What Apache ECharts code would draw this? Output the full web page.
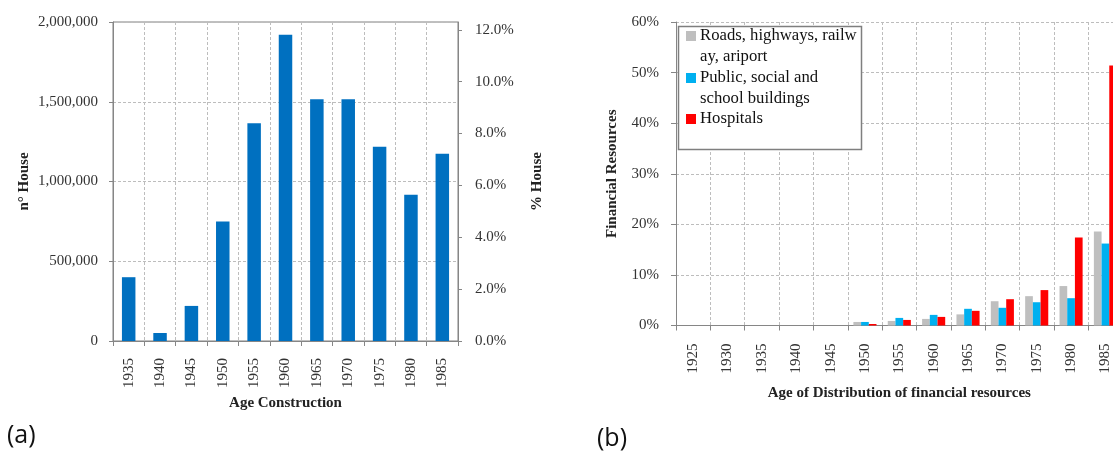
<!DOCTYPE html>
<html>
<head>
<meta charset="utf-8">
<script src="https://cdn.jsdelivr.net/npm/echarts@6/dist/echarts.min.js"></script>
<style>
html,body{margin:0;padding:0;background:#fff;overflow:hidden;width:1113px;height:453px;}
#chart{width:1130px;height:453px;}
</style>
</head>
<body>
<div id="chart"></div>
<script>
// ---- Chart (a) data ----
const yearsA = ['1935','1940','1945','1950','1955','1960','1965','1970','1975','1980','1985'];
const housesA = [400000, 50000, 220000, 750000, 1365000, 1920000, 1515000, 1515000, 1218000, 917000, 1174000];

// ---- Chart (b) data (% of financial resources) ----
const yearsB = ['1925','1930','1935','1940','1945','1950','1955','1960','1965','1970','1975','1980','1985'];
const roadsB = [0, 0, 0, 0, 0, 0.7, 0.9, 1.3, 2.2, 4.8, 5.8, 7.8, 18.6];
const publicB = [0, 0, 0, 0, 0, 0.7, 1.5, 2.1, 3.3, 3.5, 4.6, 5.4, 16.2];
const hospitalsB = [0, 0, 0, 0, 0, 0.3, 1.1, 1.7, 2.9, 5.2, 7.0, 17.4, 51.4];
const seriesNamesB = ['Roads, highways, railw\nay, ariport', 'Public, social and\nschool buildings', 'Hospitals'];
const colorsB = ['#BFBFBF', '#00B0F0', '#FF0000'];

const FONT = '"Liberation Serif", "DejaVu Serif", serif';
const axisGray = '#868686';
const gridLine = {show: true, lineStyle: {color: '#BDBDBD', type: [3, 2], width: 1}};
const labelStyle = {fontFamily: FONT, fontSize: 15, color: '#333'};
const nameStyle = {fontFamily: FONT, fontSize: 15, fontWeight: 'bold', color: '#222'};

const chart = echarts.init(document.getElementById('chart'), null, {renderer: 'canvas'});

const legendGraphics = [
  {type: 'rect', shape: {x: 678.5, y: 26.5, width: 183, height: 123}, style: {fill: '#fff', stroke: '#7F7F7F', lineWidth: 1.5}, z: 100}
];
const legendLines = [
  [seriesNamesB[0].split('\n'), 36],
  [seriesNamesB[1].split('\n'), 78],
  [seriesNamesB[2].split('\n'), 119]
];
legendLines.forEach(function (item, i) {
  legendGraphics.push({type: 'rect', shape: {x: 686, y: item[1] - 5, width: 10, height: 10}, style: {fill: colorsB[i]}, z: 101});
  item[0].forEach(function (line, j) {
    legendGraphics.push({type: 'text', x: 700, y: item[1] + j * 21, style: {text: line, font: '16.7px ' + FONT, fill: '#111', textVerticalAlign: 'middle'}, z: 101});
  });
});

const option = {
  animation: false,
  backgroundColor: '#fff',
  grid: [
    {left: 113, top: 22, width: 345, height: 319, show: true, borderColor: '#808080', borderWidth: 1},
    {left: 676, top: 22, width: 446.6, height: 303.5, show: false}
  ],
  xAxis: [
    {
      type: 'category', gridIndex: 0, data: yearsA,
      axisLine: {lineStyle: {color: axisGray}},
      axisTick: {show: true, length: 5, lineStyle: {color: axisGray}},
      axisLabel: Object.assign({rotate: 90, margin: 17, interval: 0}, labelStyle),
      splitLine: Object.assign({interval: 0}, gridLine),
      name: 'Age Construction', nameLocation: 'middle', nameGap: 53, nameTextStyle: nameStyle
    },
    {
      type: 'category', gridIndex: 1, data: yearsB,
      axisLine: {lineStyle: {color: axisGray}},
      axisTick: {show: true, length: 5, lineStyle: {color: axisGray}},
      axisLabel: Object.assign({rotate: 90, margin: 18, interval: 0}, labelStyle),
      splitLine: Object.assign({interval: 0}, gridLine),
      name: 'Age of Distribution of financial resources', nameLocation: 'middle', nameGap: 60, nameTextStyle: nameStyle
    }
  ],
  yAxis: [
    {
      type: 'value', gridIndex: 0, min: 0, max: 2000000, interval: 500000,
      axisLine: {show: true, lineStyle: {color: axisGray}},
      axisTick: {show: true, length: 4, lineStyle: {color: axisGray}},
      axisLabel: Object.assign({margin: 15, formatter: function (v) { return v.toLocaleString('en-US'); }}, labelStyle),
      splitLine: gridLine,
      name: 'n° House', nameLocation: 'middle', nameGap: 81, nameTextStyle: nameStyle
    },
    {
      type: 'value', gridIndex: 0, position: 'right', min: 0, max: 12.3, interval: 2,
      axisLine: {show: true, lineStyle: {color: axisGray}},
      axisTick: {show: true, length: 4, lineStyle: {color: axisGray}},
      axisLabel: Object.assign({margin: 17, showMaxLabel: false, formatter: function (v) { return v.toFixed(1) + '%'; }}, labelStyle),
      splitLine: {show: false},
      name: '% House', nameLocation: 'middle', nameGap: 72, nameTextStyle: nameStyle
    },
    {
      type: 'value', gridIndex: 1, min: 0, max: 60, interval: 10,
      axisLine: {show: true, lineStyle: {color: axisGray}},
      axisTick: {show: true, length: 5, lineStyle: {color: axisGray}},
      axisLabel: Object.assign({margin: 17, formatter: function (v) { return v + '%'; }}, labelStyle),
      splitLine: gridLine,
      name: 'Financial Resources', nameLocation: 'middle', nameGap: 56, nameTextStyle: nameStyle
    }
  ],
  series: [
    {type: 'bar', name: 'n° House', xAxisIndex: 0, yAxisIndex: 0, data: housesA, barWidth: 13.5, itemStyle: {color: '#0070C0'}},
    {type: 'bar', name: seriesNamesB[0], xAxisIndex: 1, yAxisIndex: 2, data: roadsB, barWidth: 7.7, barGap: '0%', itemStyle: {color: colorsB[0]}},
    {type: 'bar', name: seriesNamesB[1], xAxisIndex: 1, yAxisIndex: 2, data: publicB, barWidth: 7.7, barGap: '0%', itemStyle: {color: colorsB[1]}},
    {type: 'bar', name: seriesNamesB[2], xAxisIndex: 1, yAxisIndex: 2, data: hospitalsB, barWidth: 7.7, barGap: '0%', itemStyle: {color: colorsB[2]}}
  ],
  graphic: legendGraphics.concat([
    {type: 'text', x: 7, y: 436, style: {text: '(a)', font: '25px "Open Sans", "Noto Sans", sans-serif', fill: '#111', textVerticalAlign: 'middle'}},
    {type: 'text', x: 597, y: 439, style: {text: '(b)', font: '25px "Open Sans", "Noto Sans", sans-serif', fill: '#111', textVerticalAlign: 'middle'}}
  ])
};
chart.setOption(option);
</script>
</body>
</html>
